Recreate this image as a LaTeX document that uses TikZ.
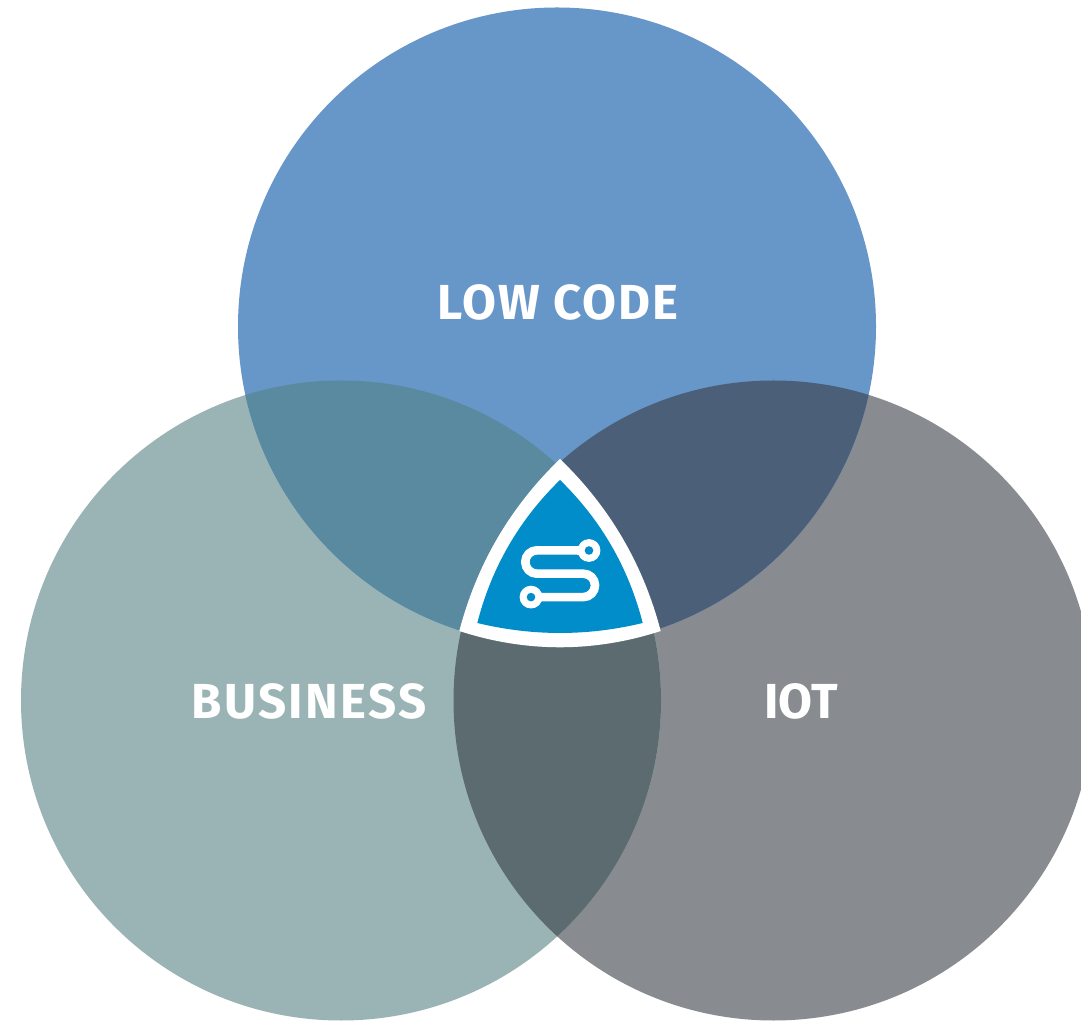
\documentclass[tikz,border=0pt]{standalone}
\usepackage{fontspec}
\setmainfont{Fira Sans}
\definecolor{topc}{HTML}{6796C8}
\definecolor{leftc}{HTML}{9AB4B5}
\definecolor{rightc}{HTML}{888C90}
\definecolor{tlc}{HTML}{5A8A9F}
\definecolor{trc}{HTML}{4B6078}
\definecolor{lrc}{HTML}{5C6B70}
\definecolor{corec}{HTML}{008DC9}
\tikzset{
  label text/.style={text=white,inner sep=0pt,font=\fontsize{28}{28}\selectfont\bfseries\addfontfeatures{LetterSpace=#1}},
  icon line/.style={draw=white,line width=0.172cm,line cap=butt},
  ring/.style={fill=white},
  hole/.style={fill=corec},
}
\begin{document}
\begin{tikzpicture}[x=0.02cm,y=0.02cm]
\useasboundingbox (0,0) rectangle (1081,1021);
\fill[white] (0,0) rectangle (1081,1021);
\begin{scope}
  \clip (0,0) rectangle (1081,1021);
  % circles
  \fill[rightc] (773.5,320.5) circle (320);
  \fill[leftc] (341,320.5) circle (320);
  \fill[topc] (557,694.5) circle (319);
  % pairwise overlaps
  \begin{scope}\clip (557,694.5) circle (319); \fill[tlc] (341,320.5) circle (320); \end{scope}
  \begin{scope}\clip (557,694.5) circle (319); \fill[trc] (773.5,320.5) circle (320); \end{scope}
  \begin{scope}\clip (341,320.5) circle (320); \fill[lrc] (773.5,320.5) circle (320); \end{scope}
  % triple overlap lies under the badge
  \begin{scope}
    \clip (557,694.5) circle (319);
    \clip (341,320.5) circle (320);
    \fill[white] (773.5,320.5) circle (320);
  \end{scope}
\end{scope}
% central badge
\fill[white] (560,562) .. controls (510.3,514.1) and (476.8,456.7) .. (459.3,390)
  .. controls (526,368.3) and (594,368.3) .. (660.7,390)
  .. controls (643.2,456.7) and (609.7,514.1) .. cycle;
\fill[corec] (560,541) .. controls (519,501.1) and (491.5,453.4) .. (477.3,398)
  .. controls (532.4,384.7) and (587.6,384.7) .. (642.7,398)
  .. controls (628.5,453.4) and (601,501.1) .. cycle;
% icon
\coordinate (ringA) at (589,470.5);
\coordinate (ringB) at (531,423.9);
\draw[icon line] (ringA) -- (537,470.7) arc[start angle=90,end angle=270,radius=11.7] -- (583.3,447.3) arc[start angle=90,end angle=-90,radius=11.7] -- (ringB);
\fill[ring] (ringA) circle (11.4);
\fill[hole] (ringA) circle (4.3);
\fill[ring] (ringB) circle (11.4);
\fill[hole] (ringB) circle (4.3);
% labels
\node[label text=4] (low) at (558,718.5) {LOW CODE};
\node[label text=5] (business) at (309,320) {BUSINESS};
\node[label text=0] (iot) at (801,320) {IOT};
\end{tikzpicture}
\end{document}
